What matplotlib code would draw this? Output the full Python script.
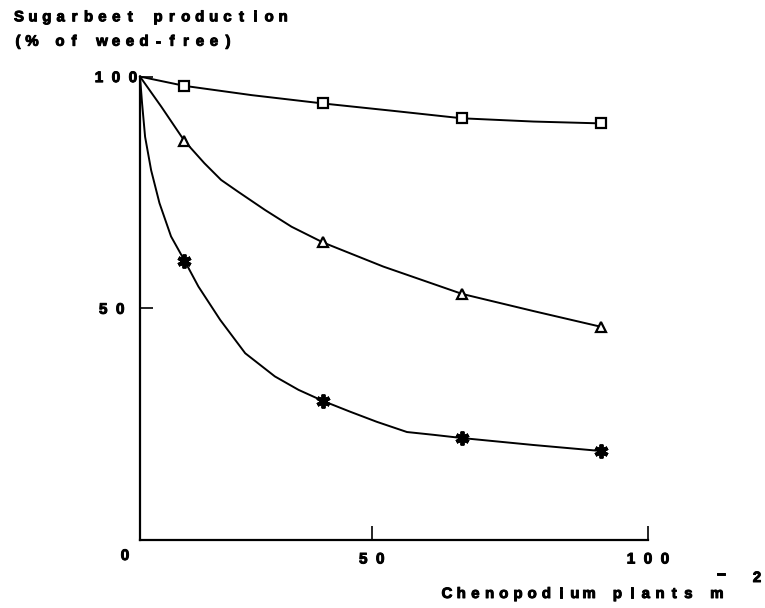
import matplotlib
matplotlib.use('Agg')
import matplotlib.pyplot as plt
import matplotlib.patheffects as pe

plt.rcParams['font.family'] = ['Liberation Sans', 'DejaVu Sans']
plt.rcParams['font.weight'] = 'bold'

# 测量点 (杂草密度, 产量 %)
density = [0, 9.6, 39.5, 69.5, 99.5]
yield_square = [100, 98.0, 94.2, 91.0, 89.9]
yield_triangle = [100, 86.1, 64.2, 53.1, 46.0]
yield_star = [100, 60.3, 30.0, 22.0, 19.2]

# 曲线轨迹
curve_sq_x = [0, 9.6, 24.1, 39.5, 54.7, 69.5, 84.9, 99.5]
curve_sq_y = [100, 98.0, 96.0, 94.2, 92.6, 91.0, 90.3, 89.9]
curve_tri_x = [0, 4.6, 9.6, 13.9, 17.5, 21.1, 27.0, 32.7, 39.5, 52.5, 69.5, 84.9, 99.5]
curve_tri_y = [100, 93.5, 86.1, 81.3, 77.7, 75.2, 71.2, 67.6, 64.2, 59.0, 53.1, 49.4, 46.0]
curve_star_x = [0, 0.45, 1.1, 2.4, 4.2, 6.7, 9.6, 12.6, 17.3, 22.7, 29.1, 34.2, 39.5,
                45.3, 51.1, 57.6, 63.3, 69.5, 84.9, 99.5]
curve_star_y = [100, 94.2, 87.0, 79.8, 72.7, 65.5, 60.3, 54.7, 47.5, 40.3, 35.3, 32.4, 30.0,
                27.7, 25.5, 23.3, 22.7, 22.0, 20.5, 19.2]

x_tick_pos = [50, 109.6]
x_tick_labels = ['5  0', '1  0  0']
y_tick_pos = [50, 100]
y_tick_labels = ['5  0   ', '1  0  0']

heavy = [pe.withStroke(linewidth=0.7, foreground='black')]
W, H = 765, 608


def spaced_text(fig, x0, y, s, pitch, size=10.8):
    """逐字放置文字, 模仿原图的宽字距 (像素坐标)"""
    for i, ch in enumerate(s):
        if ch == ' ':
            continue
        fig.text((x0 + i * pitch) / W, 1 - y / H, ch, ha='center', va='center',
                 fontsize=size, path_effects=heavy)


fig = plt.figure(figsize=(W / 100, H / 100), dpi=100)
ax = fig.add_axes([140 / W, (H - 540) / H, (648 - 140) / W, (540 - 76.6) / H])

ax.plot(curve_sq_x, curve_sq_y, color='black', lw=1.4, clip_on=False)
ax.plot(curve_tri_x, curve_tri_y, color='black', lw=1.4, clip_on=False)
ax.plot(curve_star_x, curve_star_y, color='black', lw=1.4, clip_on=False)

ax.plot(density[1:], yield_square[1:], ls='none', marker='s', ms=6.5,
        mfc='white', mec='black', mew=1.6, clip_on=False)
ax.plot(density[1:], yield_triangle[1:], ls='none', marker='^', ms=7.5,
        mfc='white', mec='black', mew=1.6, clip_on=False)
ax.plot(density[1:], yield_star[1:], ls='none', marker=(6, 2, 0), ms=10,
        mec='black', mew=2.8, clip_on=False)

ax.set_xlim(0, 109.6)
ax.set_ylim(0, 100)
ax.spines['top'].set_visible(False)
ax.spines['right'].set_visible(False)
ax.spines['left'].set_linewidth(1.6)
ax.spines['bottom'].set_linewidth(1.6)

ax.set_xticks(x_tick_pos)
ax.set_xticklabels(x_tick_labels)
ax.set_yticks(y_tick_pos)
ax.set_yticklabels(y_tick_labels)
ax.tick_params(axis='x', direction='in', length=10, width=1.2, pad=9, labelsize=11)
ax.tick_params(axis='y', direction='in', length=9, width=1.2, pad=2, labelsize=11)
for lab in ax.get_xticklabels() + ax.get_yticklabels():
    lab.set_path_effects(heavy)

fig.text(125 / W, 1 - 556 / H, '0', ha='center', va='center', fontsize=11,
         path_effects=heavy)

spaced_text(fig, 19, 17.3, 'Sugarbeet production', 13.9)
spaced_text(fig, 18, 41.7, '(% of weed-free)', 14.0)
spaced_text(fig, 447, 594, 'Chenopodium plants m', 14.2)
spaced_text(fig, 721, 574, '\u2013', 0)
spaced_text(fig, 757, 578, '2', 0)

fig.savefig('out.png', dpi=100)
